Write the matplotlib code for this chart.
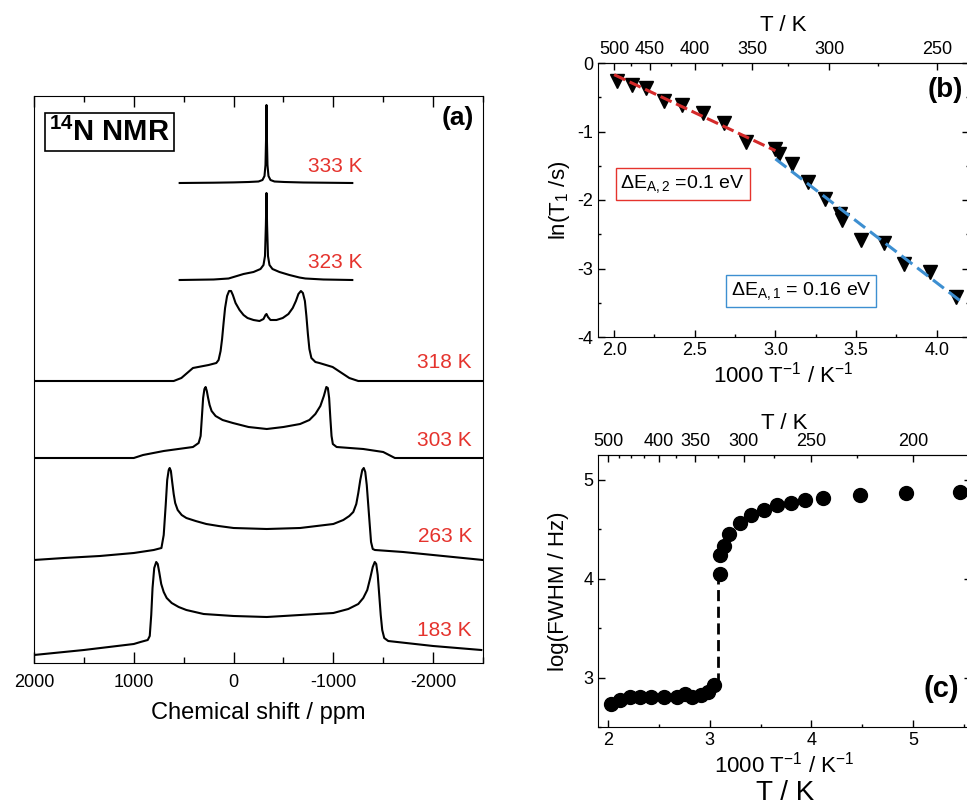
import numpy as np
import matplotlib
matplotlib.use("Agg")
import matplotlib.pyplot as plt
from matplotlib.ticker import MultipleLocator

plt.rcParams['font.family'] = ['Liberation Sans', 'DejaVu Sans']
plt.rcParams['mathtext.fontset'] = 'custom'
plt.rcParams['mathtext.rm'] = 'Liberation Sans'
plt.rcParams['mathtext.it'] = 'Liberation Sans:italic'
plt.rcParams['mathtext.bf'] = 'Liberation Sans:bold'
plt.rcParams['axes.unicode_minus'] = False

# --- (a) 14N NMR Spektren (ppm, Intensitaet relativ zur Basislinie) ---
ppm_333 = [540, 200, 0, -150, -250, -290, -310, -320, -326, -330, -334, -340, -350, -370, -410,
           -510, -700, -1190]
int_333 = [0, 0.3, 0.6, 1.0, 1.5, 3, 7, 18, 45, 78, 45, 18, 7, 3, 1.5, 1.0, 0.5, 0]

ppm_323 = [540, 200, 50, 0, -100, -200, -270, -300, -315, -324, -330, -336, -345, -360, -390,
           -460, -560, -660, -720, -900, -1190]
int_323 = [0, 0.5, 1.5, 3, 6, 8, 11, 15, 24, 55, 87, 55, 24, 15, 11, 8, 5, 2.5, 1.5, 0.5, 0]

ppm_318 = [2000, 600, 523, 407, 250, 173, 150, 130, 115, 100, 85, 65, 45, 25, 7, -20, -60, -100,
           -140, -200, -260, -300, -320, -330, -345, -370, -430, -493, -550, -593, -625, -650,
           -675, -695, -715, -730, -745, -760, -780, -820, -860, -993, -1160, -1250, -2500]
int_318 = [0, 0, 3, 13, 16, 18, 21, 30, 42, 58, 73, 85, 90, 90, 86, 78, 71, 66,
           63, 61, 60, 62, 66, 67, 64, 61, 61, 63, 67, 73, 80, 87,
           90, 88, 80, 65, 47, 32, 23, 19, 18, 14, 3, 0, 0]

ppm_303 = [2000, 1000, 907, 700, 407, 350, 330, 318, 305, 292, 280, 268, 255, 240, 220, 180,
           110, 7, -150, -333, -500, -667, -760, -820, -870, -905, -930, -945, -958, -970, -982,
           -995, -1033, -1300, -1500, -1617, -2500]
int_303 = [0, 0, 3, 7, 11, 15, 22, 40, 60, 69, 71, 67, 60, 53, 47, 42,
           38, 35, 31, 29, 31, 34, 38, 44, 52, 62, 71, 70, 60, 40, 22,
           14, 11, 9, 6, 0, 0]

ppm_263 = [2000, 1700, 1340, 1000, 800, 723, 700, 680, 665, 650, 640, 628, 615, 600, 585, 560,
           520, 473, 380, 273, 150, 0, -333, -667, -1000, -1100, -1160, -1200, -1230, -1250,
           -1270, -1290, -1305, -1320, -1335, -1350, -1365, -1378, -1395, -1417, -1700, -2000,
           -2300, -2500]
int_263 = [0, 2, 4, 7, 10, 12, 25, 55, 80, 90, 92, 89, 78, 66, 57, 50,
           45, 42, 39, 36, 34, 32, 31, 32, 36, 40, 44, 48, 56, 67,
           80, 90, 92, 88, 75, 55, 35, 18, 11, 10, 8, 5,
           2, 0]

ppm_183 = [2000, 1500, 1000, 933, 860, 840, 825, 812, 795, 775, 760, 745, 725, 700, 670, 620,
           550, 473, 300, 0, -333, -1000, -1150, -1250, -1300, -1340, -1370, -1395, -1415,
           -1430, -1445, -1460, -1475, -1490, -1510, -1550, -2000, -2483]
int_183 = [-5, 0, 6, 8, 10, 14, 35, 62, 82, 88, 86, 78, 66, 58, 52, 47,
           43, 40, 36, 34, 33, 37, 41, 46, 52, 60, 72, 83, 88,
           86, 75, 55, 35, 20, 12, 9, 4, 0]

spektren = [(ppm_333, int_333), (ppm_323, int_323), (ppm_318, int_318),
            (ppm_303, int_303), (ppm_263, int_263), (ppm_183, int_183)]
temperaturen = ['333 K', '323 K', '318 K', '303 K', '263 K', '183 K']
versatz = [480, 383, 282, 205, 103, 13]

# --- (b) T1 Relaxation ---
invT_t1 = [2.02, 2.11, 2.20, 2.31, 2.42, 2.55, 2.68, 2.82, 3.00, 3.02, 3.10, 3.20,
           3.31, 3.40, 3.41, 3.53, 3.67, 3.80, 3.96, 4.12]
ln_t1 = [-0.27, -0.32, -0.37, -0.56, -0.62, -0.73, -0.88, -1.15, -1.25, -1.33, -1.47, -1.73,
         -1.98, -2.20, -2.29, -2.59, -2.63, -2.93, -3.05, -3.41]
fit2_x = [2.0, 3.0]
fit2_y = [-0.17, -1.28]
fit1_x = [3.0, 4.15]
fit1_y = [-1.40, -3.48]

# --- (c) Linienbreite ---
invT_fwhm = [2.03, 2.12, 2.21, 2.31, 2.42, 2.55, 2.68, 2.76, 2.82, 2.91, 2.98, 3.04,
             3.10, 3.10, 3.14, 3.19, 3.30, 3.41, 3.53, 3.66, 3.80, 3.94, 4.11, 4.48, 4.93, 5.46]
log_fwhm = [2.73, 2.77, 2.80, 2.80, 2.80, 2.80, 2.80, 2.83, 2.80, 2.82, 2.85, 2.92,
            4.05, 4.24, 4.33, 4.45, 4.56, 4.64, 4.69, 4.74, 4.76, 4.79, 4.82, 4.85, 4.87, 4.88]
sprung_x = [3.08, 3.08]
sprung_y = [2.93, 4.0]

T_major_b = [500, 450, 400, 350, 300, 250]
T_minor_b = [475, 425, 375, 325, 275]
T_major_c = [500, 400, 350, 300, 250, 200]
T_minor_c = [475, 450, 425, 375, 325, 275, 225]

ROT = '#e5332d'
BLAU = '#3d8fd1'
W, H = 967, 806


def inv(x):
    x = np.asarray(x, dtype=float)
    with np.errstate(divide='ignore'):
        return 1000.0 / x


fig = plt.figure(figsize=(W / 100, H / 100), dpi=100)

# ---------- (a) ----------
ax_a = fig.add_axes([34 / W, (H - 663) / H, 449 / W, 567 / H])
for (ppm, inten), off in zip(spektren, versatz):
    ax_a.plot(ppm, np.array(inten) + off, color='black', lw=1.5)
ax_a.set_xlim(2000, -2500)
ax_a.set_ylim(0, 567)
ax_a.set_yticks([])
ax_a.xaxis.set_major_locator(MultipleLocator(1000))
ax_a.xaxis.set_minor_locator(MultipleLocator(500))
ax_a.tick_params(axis='x', which='both', direction='in', top=True, labelsize=13, pad=8)
ax_a.tick_params(axis='x', which='major', length=8, width=1)
ax_a.tick_params(axis='x', which='minor', length=4, width=1)
ax_a.set_xlabel('Chemical shift / ppm', fontsize=17, labelpad=8)

lab_pos = [(-1290, 497), (-1290, 401), (-2390, 301), (-2390, 223), (-2390, 126), (-2390, 33)]
for (x, y), lab in zip(lab_pos, temperaturen):
    ax_a.text(x, y, lab, color=ROT, fontsize=15, ha='right', va='center')

ax_a.text(0.168, 0.936, r'$^{\mathbf{14}}$N NMR', transform=ax_a.transAxes, fontsize=21,
          fontweight='bold', ha='center', va='center',
          bbox=dict(boxstyle='square,pad=0.15', fc='white', ec='black', lw=1.2))
ax_a.text(0.944, 0.961, '(a)', transform=ax_a.transAxes, fontsize=19, fontweight='bold',
          ha='center', va='center')

# ---------- (b) ----------
ax_b = fig.add_axes([598 / W, (H - 337) / H, 371 / W, 274 / H])
ax_b.plot(invT_t1, ln_t1, 'v', color='black', ms=10, zorder=2)
ax_b.plot(fit2_x, fit2_y, color='#d42a2a', lw=2.2, dashes=(4, 1.6), zorder=3)
ax_b.plot(fit1_x, fit1_y, color=BLAU, lw=2.2, dashes=(4.5, 2), zorder=3)
ax_b.set_xlim(1.9, 4.2)
ax_b.set_ylim(-4, 0)
ax_b.xaxis.set_major_locator(MultipleLocator(0.5))
ax_b.xaxis.set_minor_locator(MultipleLocator(0.25))
ax_b.yaxis.set_major_locator(MultipleLocator(1))
ax_b.yaxis.set_minor_locator(MultipleLocator(0.5))
ax_b.xaxis.set_major_formatter(plt.FormatStrFormatter('%.1f'))
ax_b.tick_params(which='both', direction='in', right=True, top=False, labelsize=13)
ax_b.tick_params(which='major', length=5, width=1)
ax_b.tick_params(which='minor', length=2.5, width=1)
ax_b.set_xlabel(r'1000 T$^{-1}$ / K$^{-1}$', fontsize=16, labelpad=2)
ax_b.set_ylabel(r'ln(T$_1$ /s)', fontsize=16, labelpad=4)

sec_b = ax_b.secondary_xaxis('top', functions=(inv, inv))
sec_b.set_ticks(T_major_b)
sec_b.set_ticks(T_minor_b, minor=True)
sec_b.tick_params(which='both', direction='in', labelsize=13)
sec_b.tick_params(which='major', length=5, width=1)
sec_b.tick_params(which='minor', length=2.5, width=1)
sec_b.set_xlabel('T / K', fontsize=16, labelpad=7)

ax_b.text(2.425, -1.77, r'ΔE$_{\mathrm{A,2}}$ =0.1 eV', fontsize=14, ha='center', va='center',
          bbox=dict(boxstyle='square,pad=0.25', fc='white', ec=ROT, lw=1))
ax_b.text(3.158, -3.33, r'ΔE$_{\mathrm{A,1}}$ = 0.16 eV', fontsize=14, ha='center', va='center',
          bbox=dict(boxstyle='square,pad=0.25', fc='white', ec=BLAU, lw=1))
ax_b.text(0.935, 0.9, '(b)', transform=ax_b.transAxes, fontsize=20, fontweight='bold',
          ha='center', va='center')

# ---------- (c) ----------
ax_c = fig.add_axes([598 / W, (H - 727) / H, 373 / W, 272 / H])
ax_c.plot(sprung_x, sprung_y, color='black', lw=2, dashes=(4, 2), zorder=1)
ax_c.plot(invT_fwhm, log_fwhm, 'o', color='black', ms=10, zorder=2)
ax_c.set_xlim(1.9, 5.57)
ax_c.set_ylim(2.5, 5.25)
ax_c.xaxis.set_major_locator(MultipleLocator(1))
ax_c.xaxis.set_minor_locator(MultipleLocator(0.5))
ax_c.yaxis.set_major_locator(MultipleLocator(1))
ax_c.yaxis.set_minor_locator(MultipleLocator(0.5))
ax_c.tick_params(which='both', direction='in', right=True, top=False, labelsize=13)
ax_c.tick_params(which='major', length=5, width=1)
ax_c.tick_params(which='minor', length=2.5, width=1)
ax_c.set_xlabel(r'1000 T$^{-1}$ / K$^{-1}$', fontsize=16, labelpad=2)
ax_c.set_ylabel('log(FWHM / Hz)', fontsize=16, labelpad=10)

sec_c = ax_c.secondary_xaxis('top', functions=(inv, inv))
sec_c.set_ticks(T_major_c)
sec_c.set_ticks(T_minor_c, minor=True)
sec_c.tick_params(which='both', direction='in', labelsize=13)
sec_c.tick_params(which='major', length=5, width=1)
sec_c.tick_params(which='minor', length=2.5, width=1)
sec_c.set_xlabel('T / K', fontsize=16, labelpad=3)

ax_c.text(0.92, 0.14, '(c)', transform=ax_c.transAxes, fontsize=21, fontweight='bold',
          ha='center', va='center')

fig.text(785 / W, 1 - 793 / H, 'T / K', fontsize=20, ha='center', va='center')

fig.savefig('out.png', dpi=100)
